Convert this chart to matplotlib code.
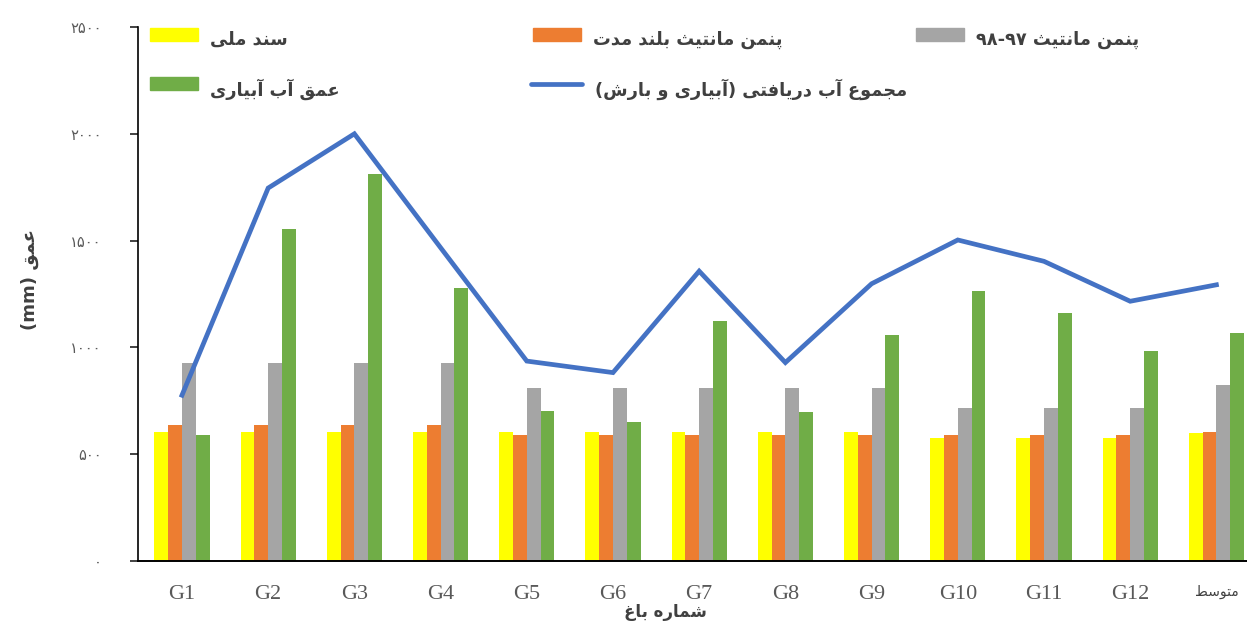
import numpy as np
import matplotlib
matplotlib.use("Agg")
import matplotlib.pyplot as plt
from matplotlib.patches import Rectangle
from matplotlib.lines import Line2D
from matplotlib.transforms import ScaledTranslation

# ---------------------------------------------------------------
# data
gardens = ["G1", "G2", "G3", "G4", "G5", "G6", "G7", "G8", "G9", "G10", "G11", "G12", "متوسط"]
sanad_melli = [604, 604, 604, 604, 604, 604, 604, 604, 604, 576, 576, 576, 597]
penman_long = [636, 636, 636, 636, 589, 589, 589, 589, 589, 589, 589, 589, 603]
penman_9798 = [927, 927, 927, 927, 812, 812, 812, 812, 812, 718, 718, 718, 826]
irrigation = [589, 1555, 1812, 1277, 704, 651, 1123, 698, 1056, 1266, 1162, 981, 1069]
total_water = [776, 1746, 2000, 1467, 936, 882, 1357, 929, 1298, 1503, 1403, 1216, 1293]
yticks = [0, 500, 1000, 1500, 2000, 2500]

labels = ["سند ملی", "پنمن مانتیث بلند مدت", "پنمن مانتیث ۹۷-۹۸",
          "عمق آب آبیاری", "مجموع آب دریافتی (آبیاری و بارش)"]
colors = ["#FFFF00", "#ED7D31", "#A5A5A5", "#70AD47"]
blue = "#4472C4"

# ---------------------------------------------------------------
# tiny persian shaper (matplotlib has no bidi / shaping)
FORMS = {
    'ا': ('\uFE8D', '\uFE8E', None, None),
    'آ': ('\uFE81', '\uFE82', None, None),
    'ب': ('\uFE8F', '\uFE90', '\uFE91', '\uFE92'),
    'پ': ('\uFB56', '\uFB57', '\uFB58', '\uFB59'),
    'ت': ('\uFE95', '\uFE96', '\uFE97', '\uFE98'),
    'ث': ('\uFE99', '\uFE9A', '\uFE9B', '\uFE9C'),
    'ج': ('\uFE9D', '\uFE9E', '\uFE9F', '\uFEA0'),
    'د': ('\uFEA9', '\uFEAA', None, None),
    'ر': ('\uFEAD', '\uFEAE', None, None),
    'س': ('\uFEB1', '\uFEB2', '\uFEB3', '\uFEB4'),
    'ش': ('\uFEB5', '\uFEB6', '\uFEB7', '\uFEB8'),
    'ط': ('\uFEC1', '\uFEC2', '\uFEC3', '\uFEC4'),
    'ع': ('\uFEC9', '\uFECA', '\uFECB', '\uFECC'),
    'غ': ('\uFECD', '\uFECE', '\uFECF', '\uFED0'),
    'ف': ('\uFED1', '\uFED2', '\uFED3', '\uFED4'),
    'ق': ('\uFED5', '\uFED6', '\uFED7', '\uFED8'),
    'ل': ('\uFEDD', '\uFEDE', '\uFEDF', '\uFEE0'),
    'م': ('\uFEE1', '\uFEE2', '\uFEE3', '\uFEE4'),
    'ن': ('\uFEE5', '\uFEE6', '\uFEE7', '\uFEE8'),
    'ه': ('\uFEE9', '\uFEEA', '\uFEEB', '\uFEEC'),
    'و': ('\uFEED', '\uFEEE', None, None),
    'ی': ('\uFBFC', '\uFBFD', '\uFBFE', '\uFBFF'),
}
MIRROR = {'(': ')', ')': '('}


def fa(s):
    out = []
    for i, ch in enumerate(s):
        if ch not in FORMS:
            out.append(ch)
            continue
        prev = s[i - 1] if i > 0 else ''
        nxt = s[i + 1] if i + 1 < len(s) else ''
        jp = prev in FORMS and FORMS[prev][2] is not None
        jn = nxt in FORMS and FORMS[ch][2] is not None
        iso, fin, ini, med = FORMS[ch]
        out.append(med if (jp and jn) else fin if jp else ini if jn else iso)
    # visual order: reverse, but keep digit runs left-to-right
    rev = [MIRROR.get(c, c) for c in reversed(out)]
    res, run = "", ""
    for c in rev:
        if c.isdigit():
            run += c
        else:
            res += run[::-1] + c
            run = ""
    return res + run[::-1]


def fa_num(v):
    return str(v).translate(str.maketrans("0123456789", "۰۱۲۳۴۵۶۷۸۹"))


# ---------------------------------------------------------------
W, H = 1247, 622
fig = plt.figure(figsize=(W / 100, H / 100), dpi=100)
ax = fig.add_axes([138 / W, 1 - 561 / H, (W - 138) / W, (561 - 27) / H])

x = np.arange(len(gardens))
bw = 0.16
series = [sanad_melli, penman_long, penman_9798, irrigation]
for k, vals in enumerate(series):
    ax.bar(x + (k - 1.5) * bw, vals, bw, color=colors[k], zorder=2)
ax.plot(x, total_water, color=blue, lw=3.4, solid_joinstyle="miter", zorder=3)

ax.set_xlim(-0.51, 12.355)
ax.set_ylim(0, 2500)
ax.set_yticks(yticks)
ax.set_yticklabels([fa_num(v) for v in yticks], family="DejaVu Sans", fontsize=10.5, color="#595959")
ax.tick_params(axis="y", length=6, width=1.2, pad=20, color="#222222")
ax.set_xticks(x)
ax.set_xticklabels(gardens[:-1] + [fa(gardens[-1])])
for t in ax.get_xticklabels()[:-1]:
    t.set_family("Liberation Serif")
    t.set_fontsize(16)
    t.set_color("#595959")
last = ax.get_xticklabels()[-1]
last.set_family("DejaVu Sans")
last.set_fontsize(10)
last.set_color("#404040")
last.set_transform(last.get_transform() + ScaledTranslation(0, -6 / 72, fig.dpi_scale_trans))
ax.tick_params(axis="x", length=0, pad=17)

for s in ["top", "right"]:
    ax.spines[s].set_visible(False)
ax.spines["left"].set_linewidth(1.2)
ax.spines["bottom"].set_linewidth(1.4)

fig.text(665 / W, 1 - 612 / H, fa("شماره باغ"), ha="center", va="center",
         fontsize=12, fontweight="bold", color="#404040")
fig.text(30 / W, 1 - 280 / H, "(mm) " + fa("عمق"), rotation=90, ha="center", va="center",
         fontsize=13, fontweight="bold", color="#404040")

# legend, drawn by hand like the excel layout
def px(xp, yp):
    return xp / W, 1 - yp / H

leg = [(150, 35, 0), (533, 35, 1), (916, 35, 2), (150, 84, 3)]
for xp, yp, k in leg:
    fig.add_artist(Rectangle(px(xp, yp + 6), 48 / W, 13 / H, transform=fig.transFigure,
                             color=colors[k]))
    fig.text(*px(xp + 60, yp + 5), fa(labels[k]), ha="left", va="center", fontsize=12.8,
             fontweight="bold", color="#404040")
x0, y0 = px(531, 84)
x1, _ = px(582, 84)
fig.add_artist(Line2D([x0, x1], [y0, y0], transform=fig.transFigure, color=blue, lw=3.4,
                      solid_capstyle="round"))
fig.text(*px(595, 89), fa(labels[4]), ha="left", va="center", fontsize=12.8,
         fontweight="bold", color="#404040")

fig.savefig("out.png", dpi=100)
